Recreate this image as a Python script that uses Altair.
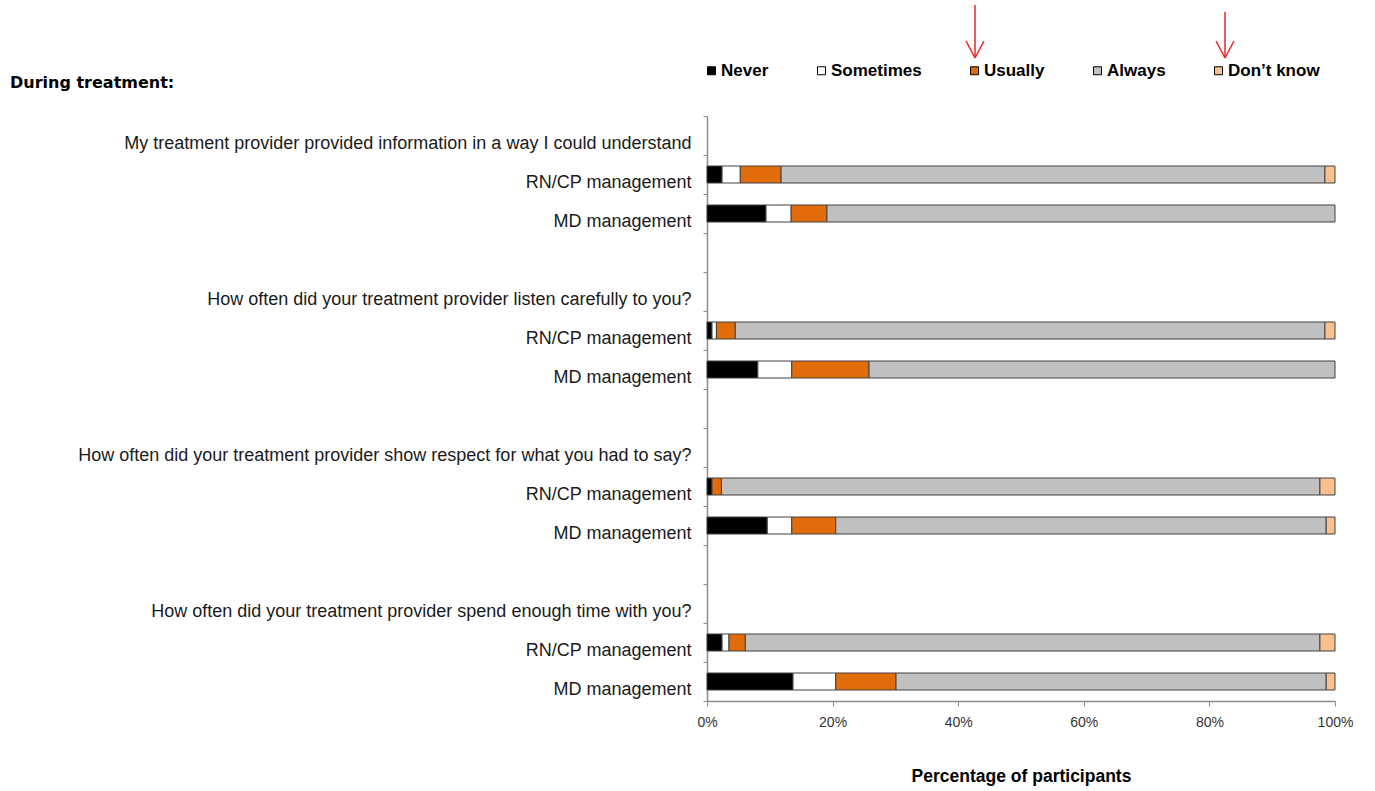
import json
import altair as alt
import pandas as pd

questions = [
    "My treatment provider provided information in a way I could understand",
    "How often did your treatment provider listen carefully to you?",
    "How often did your treatment provider show respect for what you had to say?",
    "How often did your treatment provider spend enough time with you?",
]
groups = ["RN/CP management", "MD management"]
responses = ["Never", "Sometimes", "Usually", "Always", "Don\u2019t know"]
colors = ["#000000", "#FFFFFF", "#E36C0A", "#C0C0C0", "#FAC090"]

# one value per bar: Q1 RN/CP, Q1 MD, Q2 RN/CP, Q2 MD, Q3 RN/CP, Q3 MD, Q4 RN/CP, Q4 MD
never = [2.4, 9.4, 0.8, 8.1, 0.8, 9.6, 2.4, 13.7]
sometimes = [2.9, 4.0, 0.7, 5.4, 0.0, 3.9, 1.1, 6.8]
usually = [6.5, 5.7, 3.0, 12.3, 1.5, 7.0, 2.6, 9.6]
always = [86.6, 80.9, 93.9, 74.2, 95.3, 78.1, 91.5, 68.5]
dont_know = [1.6, 0.0, 1.6, 0.0, 2.4, 1.4, 2.4, 1.4]
series = [never, sometimes, usually, always, dont_know]

# rows of the category axis
row_ids, row_labels, bar_rows = [], [], []
for qi, q in enumerate(questions):
    if qi > 0:
        row_ids.append(len(row_ids)); row_labels.append("")
    row_ids.append(len(row_ids)); row_labels.append(q)
    for g in groups:
        bar_rows.append(len(row_ids))
        row_ids.append(len(row_ids)); row_labels.append(g)

records = []
for bi, r in enumerate(bar_rows):
    for ri, resp in enumerate(responses):
        v = series[ri][bi]
        if v > 0:
            records.append({"row": r, "response": resp, "ridx": ri, "value": v})
df = pd.DataFrame(records)

label_expr = json.dumps(row_labels) + "[datum.value]"

bars = alt.Chart(df).mark_bar(size=17, stroke="#404040", strokeWidth=1).encode(
    x=alt.X(
        "value:Q",
        stack="zero",
        scale=alt.Scale(domain=[0, 100], nice=False),
        axis=alt.Axis(
            values=[0, 20, 40, 60, 80, 100],
            labelExpr="datum.value + '%'",
            labelFlush=False,
            title="Percentage of participants",
            titleFont="Liberation Sans",
            titleFontSize=17.5,
            titleFontWeight="bold",
            titleColor="#000000",
            titlePadding=38,
            labelFont="Liberation Sans",
            labelFontSize=14,
            labelColor="#333333",
            labelPadding=9,
            tickSize=5,
            tickColor="#8C8C8C",
            domainColor="#8C8C8C",
            domainWidth=1.5,
            grid=False,
        ),
    ),
    y=alt.Y(
        "row:O",
        scale=alt.Scale(domain=row_ids, paddingInner=0, paddingOuter=0),
        axis=alt.Axis(
            title=None,
            labelExpr=label_expr,
            labelFont="Liberation Sans",
            labelFontSize=18,
            labelColor="#1A1A1A",
            labelPadding=12,
            labelOffset=8,
            labelLimit=900,
            tickBand="extent",
            tickSize=4,
            tickColor="#8C8C8C",
            domainColor="#8C8C8C",
            domainWidth=1.5,
            grid=False,
        ),
    ),
    color=alt.Color(
        "response:N",
        scale=alt.Scale(domain=responses, range=colors),
        legend=alt.Legend(
            title=None,
            orient="none",
            legendX=-4,
            legendY=-54,
            direction="horizontal",
            symbolType="square",
            symbolSize=64,
            symbolStrokeColor="#000000",
            symbolStrokeWidth=1,
            labelFont="Liberation Sans",
            labelFontSize=17,
            labelFontWeight="bold",
            labelColor="#000000",
            labelOffset=1,
            columnPadding=44,
        ),
    ),
    order=alt.Order("ridx:Q"),
)

anno = alt.Chart(pd.DataFrame({"k": [0]}))


def seg(x1, y1, x2, y2):
    return anno.mark_rule(color="#E8262A", strokeWidth=1.5).encode(
        x=alt.value(x1), y=alt.value(y1), x2=alt.value(x2), y2=alt.value(y2)
    )


arrows = [
    seg(268, -111, 268, -58), seg(259, -75, 268, -58), seg(277, -75, 268, -58),
    seg(518, -104, 518, -58), seg(509, -75, 518, -58), seg(527, -75, 518, -58),
]

title = anno.mark_text(
    text="During treatment:", align="left", baseline="middle",
    font="DejaVu Sans", fontWeight="bold", fontSize=16, color="#000000",
).encode(x=alt.value(-697), y=alt.value(-33))

chart = alt.layer(bars, title, *arrows).properties(
    width=628,
    height=585,
    autosize=alt.AutoSizeParams(type="none"),
    padding={"left": 707, "top": 116, "right": 40, "bottom": 90},
).configure_view(stroke=None)

chart.save("out.html", embed_options={"renderer": "svg", "actions": False})
